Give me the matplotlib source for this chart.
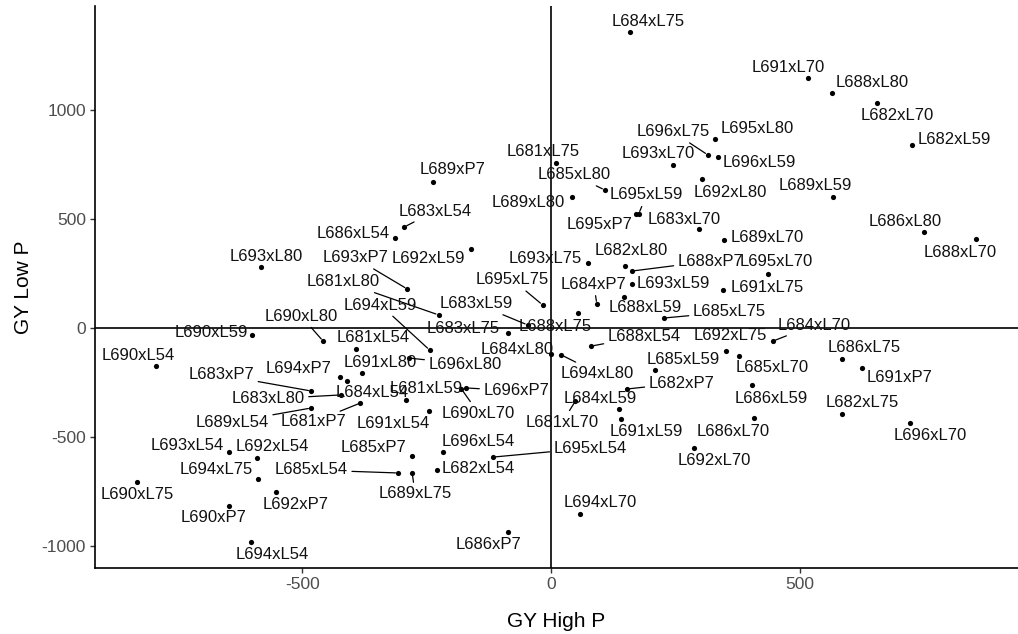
import matplotlib
matplotlib.use("Agg")
import matplotlib.pyplot as plt

plt.rcParams['font.family'] = ['Liberation Sans', 'DejaVu Sans']
plt.rcParams['axes.unicode_minus'] = False

# ---- data -------------------------------------------------------------
labels = [
    "L684xL75", "L691xL70", "L688xL80", "L682xL70", "L682xL59", "L696xL75",
    "L695xL80", "L693xL70", "L696xL59", "L692xL80", "L685xL80", "L689xL59",
    "L681xL75", "L689xP7", "L689xL80", "L695xL59", "L695xP7", "L683xL70",
    "L689xL70", "L686xL80", "L688xL70", "L693xL75", "L682xL80", "L688xP7",
    "L693xL59", "L688xL59", "L684xP7", "L695xL70", "L691xL75", "L685xL75",
    "L688xL75", "L695xL75", "L683xL59", "L683xL75", "L684xL80", "L683xL54",
    "L686xL54", "L692xL59", "L693xP7", "L693xL80", "L681xL80", "L694xL59",
    "L690xL80", "L690xL59", "L681xL54", "L691xL80", "L696xL80", "L690xL54",
    "L694xP7", "L684xL54", "L683xP7", "L683xL80", "L689xL54", "L681xP7",
    "L681xL59", "L696xP7", "L690xL70", "L691xL54", "L685xP7", "L696xL54",
    "L685xL54", "L689xL75", "L682xL54", "L695xL54", "L686xP7", "L693xL54",
    "L692xL54", "L694xL75", "L690xL75", "L692xP7", "L690xP7", "L694xL54",
    "L688xL54", "L694xL80", "L692xL75", "L685xL70", "L684xL70", "L685xL59",
    "L682xP7", "L686xL59", "L684xL59", "L691xL59", "L686xL70", "L692xL70",
    "L694xL70", "L681xL70", "L686xL75", "L691xP7", "L682xL75", "L696xL70",
]

gy_high = [
    158, 516, 564, 655, 725, 315,
    329, 246, 335, 303, 108, 566,
    9, -238, 43, 176, 170, 297,
    347, 749, 854, 75, 148, 162,
    162, 146, 92, 436, 345, 228,
    55, -17, -47, -86, -1, -295,
    -313, -160, -289, -583, -226, -244,
    -458, -601, -391, -379, -285, -794,
    -424, -409, -482, -422, -482, -383,
    -291, -170, -180, -246, -279, -218,
    -307, -279, -230, -116, -86, -647,
    -591, -589, -832, -552, -647, -603,
    81, 21, 351, 377, 446, 208,
    152, 403, 136, 140, 407, 287,
    59, 49, 585, 625, 585, 721,
]

gy_low = [
    1358, 1147, 1078, 1032, 839, 794,
    867, 748, 784, 683, 633, 601,
    757, 670, 601, 523, 523, 454,
    404, 440, 408, 298, 284, 261,
    202, 142, 110, 248, 174, 46,
    69, 106, 14, -23, -119, 463,
    413, 362, 179, 280, 60, -101,
    -60, -32, -96, -206, -138, -174,
    -225, -243, -289, -307, -367, -344,
    -330, -275, -280, -381, -587, -569,
    -665, -665, -651, -592, -936, -569,
    -596, -693, -706, -752, -817, -982,
    -83, -124, -106, -128, -60, -193,
    -280, -261, -372, -417, -413, -550,
    -853, -335, -142, -183, -394, -436,
]

# ---- label layout (offset of label centre from point, pixels: right, down; flag = leader line)
label_layout = {
    "L684xL75": (19, -10, 0), "L691xL70": (-20, -10, 0), "L688xL80": (40, -10, 0),
    "L682xL70": (20, 13, 0), "L682xL59": (42, -6, 0), "L696xL75": (-35, -23, 1),
    "L695xL80": (42, -10, 0), "L693xL70": (-15, -11, 0), "L696xL59": (42, 5, 0),
    "L692xL80": (28, 13, 0), "L685xL80": (-31, -15, 1), "L689xL59": (-17, -11, 0),
    "L681xL75": (-12, -11, 0), "L689xP7": (20, -12, 0), "L689xL80": (-44, 6, 0),
    "L695xL59": (8, -19, 1), "L695xP7": (-36, 11, 0), "L683xL70": (-15, -10, 0),
    "L689xL70": (44, -2, 0), "L686xL80": (-19, -11, 0), "L688xL70": (-16, 13, 0),
    "L693xL75": (-43, -5, 0), "L682xL80": (7, -16, 0), "L688xP7": (79, -10, 1),
    "L693xL59": (42, 0, 0), "L688xL59": (22, 10, 0), "L684xP7": (-3, -20, 1),
    "L695xL70": (8, -12, 0), "L691xL75": (45, -3, 0), "L685xL75": (65, -6, 1),
    "L688xL75": (-23, 14, 0), "L695xL75": (-30, -25, 1), "L683xL59": (-51, -21, 1),
    "L683xL75": (-45, -5, 0), "L684xL80": (-33, -4, 0), "L683xL54": (31, -16, 1),
    "L686xL54": (-42, -4, 0), "L692xL59": (-43, 9, 0), "L693xP7": (-52, -31, 1),
    "L693xL80": (5, -10, 0), "L681xL80": (-95, -33, 1), "L694xL59": (-49, -45, 1),
    "L690xL80": (-22, -25, 1), "L690xL59": (-41, -2, 0), "L681xL54": (17, -11, 0),
    "L691xL80": (18, -10, 0), "L696xL80": (56, 6, 1), "L690xL54": (-18, -10, 0),
    "L694xP7": (-41, -9, 0), "L684xL54": (25, 12, 0), "L683xP7": (-90, -16, 1),
    "L683xL80": (-73, 4, 1), "L689xL54": (-79, 14, 1), "L681xP7": (-47, 19, 1),
    "L681xL59": (20, -11, 1), "L696xP7": (50, 3, 1), "L690xL70": (17, 24, 1),
    "L691xL54": (-35, 12, 0), "L685xP7": (-39, -8, 0), "L696xL54": (36, -11, 0),
    "L685xL54": (-87, -3, 1), "L689xL75": (3, 21, 1), "L682xL54": (42, -1, 0),
    "L695xL54": (97, -9, 1), "L686xP7": (-20, 12, 0), "L693xL54": (-42, -7, 0),
    "L692xL54": (15, -11, 0), "L694xL75": (-42, -10, 0), "L690xL75": (0, 13, 0),
    "L692xP7": (19, 13, 0), "L690xP7": (-15, 11, 0), "L694xL54": (21, 12, 0),
    "L688xL54": (53, -10, 1), "L694xL80": (36, 18, 1), "L692xL75": (5, -16, 0),
    "L685xL70": (34, 12, 0), "L684xL70": (41, -16, 1), "L685xL59": (29, -11, 0),
    "L682xP7": (55, -6, 1), "L686xL59": (20, 14, 0), "L684xL59": (-18, -11, 0),
    "L691xL59": (26, 13, 0), "L686xL70": (-20, 13, 0), "L692xL70": (20, 13, 0),
    "L694xL70": (20, -11, 0), "L681xL70": (-13, 21, 1), "L686xL75": (22, -11, 0),
    "L691xP7": (37, 10, 0), "L682xL75": (20, -11, 0), "L696xL70": (20, 12, 0),
}

# ---- figure -----------------------------------------------------------
W, H = 1018, 634
fig = plt.figure(figsize=(W / 100, H / 100), dpi=100)
ax = fig.add_axes([95 / W, (H - 567.6) / H, (1018 - 95) / W, (567.6 - 6.4) / H])

ax.scatter(gy_high, gy_low, s=14, color='black', zorder=3, linewidths=0)
ax.margins(0.05)

ax.axhline(0, color='black', lw=1.2, zorder=1)
ax.axvline(0, color='black', lw=1.2, zorder=1)

for lab, x, y in zip(labels, gy_high, gy_low):
    dx, dy, line = label_layout[lab]
    kw = {}
    if line:
        kw['arrowprops'] = dict(arrowstyle='-', color='black', lw=0.9,
                                shrinkA=1, shrinkB=2)
    ax.annotate(lab, (x, y), xytext=(dx, -dy), textcoords='offset pixels',
                ha='center', va='center', fontsize=12, color='#111111',
                zorder=4, **kw)

for side in ['top', 'right']:
    ax.spines[side].set_visible(False)
for side in ['left', 'bottom']:
    ax.spines[side].set_linewidth(1.2)
    ax.spines[side].set_color('black')

ax.set_xticks([-500, 0, 500])
ax.set_yticks([-1000, -500, 0, 500, 1000])
ax.tick_params(axis='both', length=3.5, width=1.0, color='#333333',
               labelsize=12.5, labelcolor='#4D4D4D', pad=3)

ax.set_xlabel("GY High P", fontsize=15, labelpad=15)
ax.set_ylabel("GY Low P", fontsize=15, labelpad=6)

fig.savefig("out.png", dpi=100)
